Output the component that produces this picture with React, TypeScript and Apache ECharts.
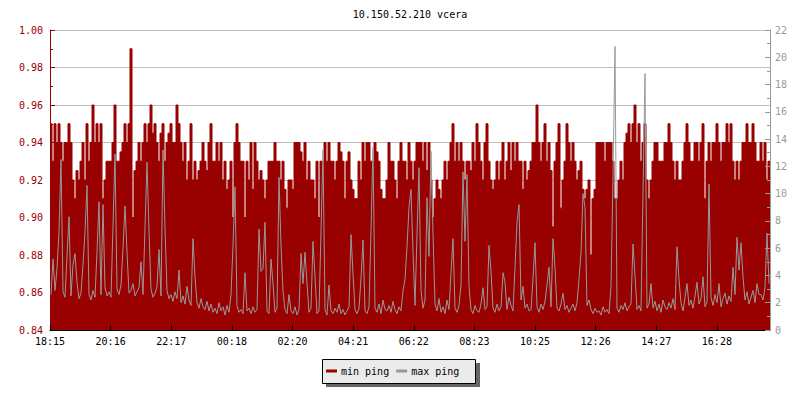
import React, { useEffect, useRef } from 'react';
import * as echarts from 'echarts';

const chartTitle = '10.150.52.210 vcera';
const xTickLabels = ['18:15', '20:16', '22:17', '00:18', '02:20', '04:21', '06:22', '08:23', '10:25', '12:26', '14:27', '16:28'];
const sampleMinutes = 4;
const spanMinutes = 1440;
const tickStepMinutes = 121.25;
const seriesNames = ['min ping', 'max ping'];

// min ping (left axis), one value per 4 minutes starting 18:15
const minPing = [
  .95, .93, .95, .94, .95, .94, .93, .94, .94, .95,
  .94, .92, .91, .925, .92, .93, .94, .92, .95, .93,
  .94, .96, .94, .95, .94, .95, .91, .92, .93, .93,
  .93, .94, .96, .93, .93, .935, .94, .95, .94, .95,
  .99, .90, .925, .93, .94, .93, .94, .95, .94, .95,
  .96, .945, .95, .94, .93, .945, .95, .93, .94, .945,
  .95, .94, .94, .96, .95, .94, .93, .94, .92, .93,
  .95, .92, .93, .92, .925, .93, .94, .93, .925, .94,
  .95, .93, .93, .94, .93, .94, .92, .93, .915, .92,
  .93, .90, .94, .95, .94, .93, .93, .90, .93, .92,
  .94, .915, .94, .93, .92, .925, .92, .91, .92, .93,
  .93, .93, .94, .93, .93, .92, .93, .915, .905, .92,
  .92, .915, .94, .94, .94, .935, .93, .94, .92, .93,
  .92, .92, .91, .93, .90, .93, .93, .94, .93, .94,
  .93, .93, .92, .93, .94, .935, .93, .91, .93, .935,
  .92, .915, .91, .91, .93, .92, .94, .93, .94, .94,
  .93, .93, .94, .935, .93, .915, .91, .91, .92, .94,
  .93, .93, .92, .91, .93, .94, .93, .93, .92, .94,
  .93, .92, .93, .94, .94, .94, .93, .94, .925, .94,
  .92, .90, .91, .92, .915, .91, .92, .93, .92, .93,
  .94, .95, .93, .94, .93, .94, .93, .92, .93, .93,
  .925, .94, .93, .95, .94, .93, .92, .94, .95, .93,
  .92, .915, .92, .93, .92, .93, .94, .92, .93, .94,
  .925, .94, .93, .94, .93, .93, .915, .93, .92, .925,
  .93, .94, .94, .96, .94, .93, .94, .95, .93, .94,
  .925, .895, .93, .94, .95, .905, .92, .93, .95, .94,
  .93, .94, .93, .92, .925, .93, .915, .91, .915, .92,
  .88, .91, .915, .94, .94, .94, .94, .93, .94, .94,
  .94, .93, .91, .91, .92, .93, .92, .94, .945, .95,
  .94, .95, .96, .94, .95, .93, .94, .95, .92, .91,
  .92, .93, .94, .94, .93, .93, .93, .94, .94, .95,
  .94, .93, .92, .93, .92, .92, .93, .94, .95, .94,
  .93, .93, .94, .94, .93, .94, .95, .91, .93, .94,
  .93, .94, .94, .95, .94, .93, .94, .94, .95, .94,
  .95, .93, .92, .93, .92, .93, .94, .94, .95, .94,
  .94, .95, .94, .93, .93, .94, .93, .94, .92, .93,
];

// max ping (right axis), one value per 4 minutes starting 18:15
const maxPing = [
  2.6, 5.2, 2.9, 4.5, 7.2, 12.5, 2.8, 2.4, 5.4, 8.3,
  2.5, 4.8, 5.6, 3.5, 2.3, 2.7, 4.8, 7.2, 10.6, 2.6,
  2.2, 2.9, 2.4, 5.7, 9.4, 2.6, 9.2, 3.1, 2.5, 2.8,
  2.4, 7.7, 12.9, 3.0, 2.6, 3.3, 6.0, 9.1, 5.7, 2.7,
  2.9, 3.4, 2.5, 2.8, 3.1, 5.0, 2.6, 7.5, 12.3, 7.3,
  3.0, 2.4, 2.7, 3.2, 5.9, 2.5, 13.2, 7.5, 2.9, 2.3,
  2.6, 2.1, 2.8, 2.3, 4.4, 2.0, 2.5, 1.9, 3.2, 2.2,
  1.8, 6.7, 3.9, 2.0, 1.6, 2.3, 1.7, 1.5, 2.1, 1.4,
  1.9, 1.3, 1.6, 1.2, 2.0, 1.4, 1.7, 1.1, 1.8, 1.3,
  2.6, 6.2, 10.5, 1.8, 1.3, 1.5, 1.2, 4.2, 1.4, 1.6,
  1.2, 1.7, 1.3, 1.5, 7.4, 4.3, 4.5, 7.9, 1.4, 1.2,
  5.2, 3.4, 1.3, 1.6, 11.2, 6.2, 2.8, 1.5, 1.2, 2.6,
  1.4, 1.2, 1.7, 1.1, 1.5, 5.6, 3.4, 5.7, 3.4, 1.3,
  1.6, 6.5, 3.9, 1.2, 1.4, 7.2, 13.2, 1.5, 1.1, 3.3,
  1.4, 1.2, 1.6, 1.3, 1.9, 1.2, 1.5, 1.1, 1.4, 1.7,
  7.0, 4.1, 1.5, 1.2, 1.6, 3.8, 6.6, 1.4, 1.2, 1.7,
  7.3, 13.4, 1.6, 1.3, 1.9, 1.2, 2.2, 1.5, 1.4, 1.8,
  1.3, 2.1, 1.5, 1.2, 1.7, 1.4, 2.9, 3.7, 6.1, 9.0,
  10.3, 5.7, 1.8, 7.0, 11.9, 2.9, 1.6, 2.2, 9.7, 5.4,
  13.1, 7.1, 1.9, 1.4, 2.3, 1.3, 1.7, 1.2, 2.2, 1.5,
  4.2, 6.7, 1.6, 1.3, 1.8, 3.3, 11.6, 6.5, 11.4, 3.2,
  1.5, 1.2, 1.8, 1.4, 1.3, 1.9, 3.1, 1.5, 1.7, 6.2,
  4.3, 1.6, 1.3, 1.9, 1.4, 1.7, 4.2, 3.5, 1.5, 2.4,
  1.8, 1.4, 4.6, 7.9, 9.2, 2.2, 3.2, 1.6, 1.9, 1.4,
  1.5, 3.8, 6.4, 1.7, 1.3, 1.9, 1.5, 2.1, 3.3, 4.6,
  1.7, 6.7, 4.6, 1.6, 1.4, 1.9, 2.7, 1.5, 1.8, 1.3,
  1.6, 1.9, 1.4, 2.0, 3.7, 5.7, 10.0, 9.0, 1.8, 2.2,
  1.5, 1.2, 1.6, 1.3, 1.4, 1.1, 1.7, 1.3, 1.5, 1.2,
  3.2, 11.2, 20.8, 1.6, 1.3, 1.8, 1.5, 2.0, 1.4, 1.7,
  1.9, 6.3, 4.0, 1.5, 1.8, 1.4, 10.1, 18.8, 1.6, 1.9,
  3.4, 1.6, 2.1, 1.4, 1.9, 1.3, 2.2, 1.7, 1.5, 2.0,
  1.6, 2.3, 1.5, 6.1, 3.7, 2.0, 1.4, 2.4, 3.4, 1.8,
  2.2, 1.6, 2.5, 3.5, 1.9, 2.3, 3.9, 1.7, 2.1, 10.7,
  2.4, 1.8, 2.6, 2.0, 3.4, 1.7, 2.3, 2.7, 1.9, 2.5,
  2.1, 4.6, 2.6, 6.8, 4.4, 6.4, 3.9, 2.2, 2.8, 1.9,
  2.4, 2.9, 2.0, 3.4, 2.6, 2.6, 2.2, 3.1, 7.1, 3.4,
];

const FONT = '"DejaVu Sans Mono", "Liberation Mono", monospace';
const RED = '#990000';
const GRAY = '#999999';

export default function App() {
  const ref = useRef<HTMLDivElement>(null);

  useEffect(() => {
    document.body.style.margin = '0';
    if (!ref.current) return;
    const chart = echarts.init(ref.current, null, { renderer: 'svg' });

    const minData: number[][] = minPing.map((v, i) => [i * sampleMinutes, v]);
    minData.push([spanMinutes, minPing[minPing.length - 1]]);
    const maxData = maxPing.map((v, i) => [i * sampleMinutes + sampleMinutes / 2, v]);

    chart.setOption({
      animation: false,
      backgroundColor: '#ffffff',
      grid: { left: 50, right: 30, top: 30, bottom: 70 },
      xAxis: {
        type: 'value',
        min: 0,
        max: spanMinutes,
        interval: tickStepMinutes,
        z: 5,
        axisLine: { show: true, lineStyle: { color: '#000', width: 1 } },
        axisTick: { show: true, inside: true, length: 5, lineStyle: { color: '#000' } },
        splitLine: { show: false },
        axisLabel: {
          showMaxLabel: false,
          fontFamily: FONT,
          fontSize: 10,
          color: '#000',
          margin: 6,
          formatter: (v: number) => xTickLabels[Math.round(v / tickStepMinutes)] ?? '',
        },
      },
      yAxis: [
        {
          type: 'value',
          position: 'left',
          min: 0.84,
          max: 1.0,
          interval: 0.02,
          axisLine: { show: true, lineStyle: { color: RED } },
          axisTick: { show: true, inside: true, length: 5, lineStyle: { color: RED } },
          minorTick: { show: true, splitNumber: 2, length: 3, lineStyle: { color: RED } },
          splitLine: { show: true, lineStyle: { color: '#c0c0c0', width: 1 } },
          axisLabel: {
            fontFamily: FONT,
            fontSize: 10,
            color: RED,
            margin: 7,
            formatter: (v: number) => v.toFixed(2),
          },
        },
        {
          type: 'value',
          position: 'right',
          min: 0,
          max: 22,
          interval: 2,
          z: 5,
          axisLine: { show: true, lineStyle: { color: GRAY } },
          axisTick: { show: true, inside: true, length: 5, lineStyle: { color: GRAY } },
          minorTick: { show: true, splitNumber: 2, length: 3, lineStyle: { color: GRAY } },
          splitLine: { show: false },
          axisLabel: { fontFamily: FONT, fontSize: 10, color: GRAY, margin: 5 },
        },
      ],
      legend: {
        data: seriesNames,
        left: 326,
        top: 366,
        padding: 0,
        itemWidth: 11,
        itemHeight: 3,
        itemGap: 7,
        icon: 'rect',
        z: 10,
        textStyle: { fontFamily: FONT, fontSize: 10, color: '#000', padding: [0, 0, 0, -1] },
      },
      graphic: [
        {
          type: 'text',
          x: 410,
          y: 14,
          z: 10,
          style: {
            text: chartTitle,
            textAlign: 'center',
            textVerticalAlign: 'middle',
            font: '10px "DejaVu Sans Mono"',
            fill: '#000',
          },
        },
        {
          type: 'rect',
          z: 1,
          shape: { x: 326, y: 363, width: 154, height: 24 },
          style: { fill: '#666666' },
        },
        {
          type: 'rect',
          z: 2,
          shape: { x: 322.5, y: 359.5, width: 153, height: 24 },
          style: { fill: '#ebebeb', stroke: '#000', lineWidth: 1 },
        },
      ],
      series: [
        {
          name: seriesNames[0],
          type: 'line',
          yAxisIndex: 0,
          data: minData,
          step: 'end',
          symbol: 'none',
          color: RED,
          lineStyle: { color: RED, width: 1 },
          areaStyle: { color: RED, opacity: 1, origin: 'start' },
          z: 2,
        },
        {
          name: seriesNames[1],
          type: 'line',
          yAxisIndex: 1,
          data: maxData,
          symbol: 'none',
          color: GRAY,
          lineStyle: { color: GRAY, width: 1 },
          z: 3,
        },
      ],
    });

    return () => chart.dispose();
  }, []);

  return <div ref={ref} style={{ width: 800, height: 400 }} />;
}
